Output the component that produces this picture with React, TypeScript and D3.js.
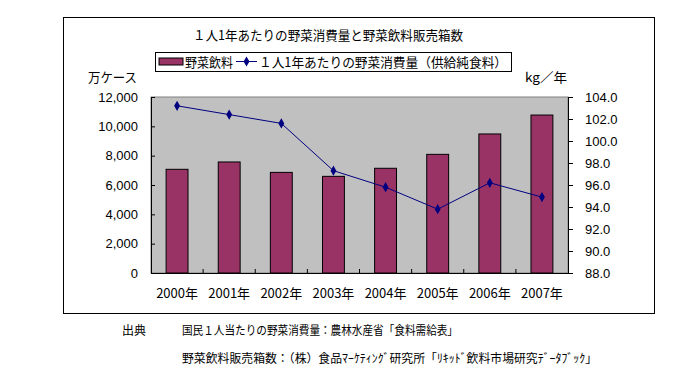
import {default as React, useEffect, useRef} from "react";
import * as d3 from "d3";

// 年
const years = ["2000年", "2001年", "2002年", "2003年", "2004年", "2005年", "2006年", "2007年"];
// 野菜飲料販売箱数 (万ケース)
const drinkCases = [7070, 7570, 6860, 6590, 7140, 8090, 9480, 10770];
// 1人1年あたりの野菜消費量 (kg/年)
const vegConsumption = [103.2, 102.4, 101.6, 97.3, 95.8, 93.8, 96.2, 94.9];

const leftTicks = [0, 2000, 4000, 6000, 8000, 10000, 12000];
const rightTicks = [88, 90, 92, 94, 96, 98, 100, 102, 104];

const title = "１人1年あたりの野菜消費量と野菜飲料販売箱数";
const barLabel = "野菜飲料";
const lineLabel = "１人1年あたりの野菜消費量（供給純食料）";
const notes = [
    "国民１人当たりの野菜消費量：農林水産省「食料需給表」",
    "野菜飲料販売箱数：（株）食品ﾏｰｹﾃｨﾝｸﾞ研究所「ﾘｷｯﾄﾞ飲料市場研究ﾃﾞｰﾀﾌﾞｯｸ」"
];
const noteWidths = [276, 415];

const width = 692;
const height = 386;
const plot = {left: 151, right: 568, top: 97, bottom: 273};
const font = "'Noto Sans CJK JP', 'DejaVu Sans', sans-serif";
const numFont = "'Liberation Sans', Arial, sans-serif";

export default function App() {
    const ref = useRef<SVGSVGElement>(null);

    useEffect(() => {
        draw();
    }, []);

    function draw() {
        const svg = d3.select(ref.current);
        svg.selectAll("*").remove();

        svg.append("rect")
            .attr("x", 63.5).attr("y", 17.5)
            .attr("width", 591).attr("height", 296)
            .attr("fill", "white").attr("stroke", "black").attr("stroke-width", 1);

        const x = d3.scaleBand<string>()
            .domain(years)
            .range([plot.left, plot.right])
            .paddingInner(0.58)
            .paddingOuter(0.29);

        const band = d3.scaleBand<string>().domain(years).range([plot.left, plot.right]);

        const yL = d3.scaleLinear().domain([0, 12000]).range([plot.bottom, plot.top]);
        const yR = d3.scaleLinear().domain([88, 104]).range([plot.bottom, plot.top]);

        svg.append("rect")
            .attr("x", plot.left).attr("y", plot.top)
            .attr("width", plot.right - plot.left).attr("height", plot.bottom - plot.top)
            .attr("fill", "#c0c0c0").attr("stroke", "#808080");

        // bars
        svg.append("g")
            .selectAll("rect")
            .data(drinkCases)
            .join("rect")
            .attr("x", (d, i) => x(years[i])!)
            .attr("y", d => yL(d))
            .attr("width", x.bandwidth())
            .attr("height", d => yL(0) - yL(d))
            .attr("fill", "#993366")
            .attr("stroke", "black")
            .attr("stroke-width", 1);

        // left axis
        const left = svg.append("g")
            .attr("transform", `translate(${plot.left},0)`)
            .call(d3.axisLeft(yL).tickValues(leftTicks).tickFormat(d3.format(",")).tickSizeInner(-4).tickSizeOuter(0).tickPadding(13));
        left.select(".domain").attr("stroke", "black");
        left.selectAll("text").attr("font-family", numFont).attr("font-size", 13).attr("fill", "black");

        // right axis
        const right = svg.append("g")
            .attr("transform", `translate(${plot.right},0)`)
            .call(d3.axisRight(yR).tickValues(rightTicks).tickFormat(d3.format(".1f")).tickSizeInner(5).tickSizeOuter(0).tickPadding(12));
        right.select(".domain").attr("stroke", "black");
        right.selectAll("text").attr("font-family", numFont).attr("font-size", 13).attr("fill", "black");

        // bottom axis
        const bottom = svg.append("g")
            .attr("transform", `translate(0,${plot.bottom})`)
            .call(d3.axisBottom(x).tickSize(0).tickPadding(16));
        bottom.select(".domain").attr("stroke", "black");
        bottom.selectAll("text").attr("font-family", font).attr("font-size", 13).attr("fill", "black");
        svg.append("g")
            .selectAll("line")
            .data(years.slice(1))
            .join("line")
            .attr("x1", d => band(d)!).attr("x2", d => band(d)!)
            .attr("y1", plot.bottom).attr("y2", plot.bottom - 4)
            .attr("stroke", "black");

        // line series
        const cx = (i: number) => x(years[i])! + x.bandwidth() / 2;
        const line = d3.line<number>()
            .x((d, i) => cx(i))
            .y(d => yR(d));
        svg.append("path")
            .datum(vegConsumption)
            .attr("fill", "none")
            .attr("stroke", "#000080")
            .attr("stroke-width", 1)
            .attr("d", line);
        const diamond = d3.symbol().type(d3.symbolDiamond).size(30);
        svg.append("g")
            .selectAll("path")
            .data(vegConsumption)
            .join("path")
            .attr("transform", (d, i) => `translate(${cx(i)},${yR(d)})`)
            .attr("d", diamond)
            .attr("fill", "#000080");

        // title
        svg.append("text")
            .attr("x", 193).attr("y", 40)
            .attr("textLength", 270).attr("lengthAdjust", "spacingAndGlyphs")
            .attr("font-family", font).attr("font-size", 13)
            .text(title);

        // legend
        const lg = svg.append("g");
        lg.append("rect")
            .attr("x", 155.5).attr("y", 52.5).attr("width", 356).attr("height", 19)
            .attr("fill", "white").attr("stroke", "black");
        lg.append("rect")
            .attr("x", 159).attr("y", 58).attr("width", 24).attr("height", 7)
            .attr("fill", "#993366").attr("stroke", "black");
        lg.append("text")
            .attr("x", 185).attr("y", 67)
            .attr("textLength", 48).attr("lengthAdjust", "spacingAndGlyphs")
            .attr("font-family", font).attr("font-size", 13)
            .text(barLabel);
        lg.append("line")
            .attr("x1", 236).attr("x2", 257).attr("y1", 61.5).attr("y2", 61.5)
            .attr("stroke", "#000080");
        lg.append("path")
            .attr("transform", "translate(246.5,61.5)")
            .attr("d", diamond)
            .attr("fill", "#000080");
        lg.append("text")
            .attr("x", 259).attr("y", 67)
            .attr("textLength", 248).attr("lengthAdjust", "spacingAndGlyphs")
            .attr("font-family", font).attr("font-size", 13)
            .text(lineLabel);

        // axis titles
        svg.append("text")
            .attr("x", 88).attr("y", 82)
            .attr("textLength", 49).attr("lengthAdjust", "spacingAndGlyphs")
            .attr("font-family", font).attr("font-size", 13)
            .text("万ケース");
        svg.append("text")
            .attr("x", 525).attr("y", 82)
            .attr("textLength", 42).attr("lengthAdjust", "spacingAndGlyphs")
            .attr("font-family", font).attr("font-size", 13)
            .text("kg／年");

        // sources
        svg.append("text")
            .attr("x", 122).attr("y", 335)
            .attr("font-family", font).attr("font-size", 12)
            .text("出典");
        svg.append("g")
            .selectAll("text")
            .data(notes)
            .join("text")
            .attr("x", 182)
            .attr("y", (d, i) => 335 + i * 28)
            .attr("textLength", (d, i) => noteWidths[i]).attr("lengthAdjust", "spacingAndGlyphs")
            .attr("font-family", font).attr("font-size", 12)
            .text(d => d);
    }

    return (
        <svg
            width={width}
            height={height}
            ref={ref}
            style={{position: "absolute", left: 0, top: 0, backgroundColor: "white"}}
        />
    );
}
